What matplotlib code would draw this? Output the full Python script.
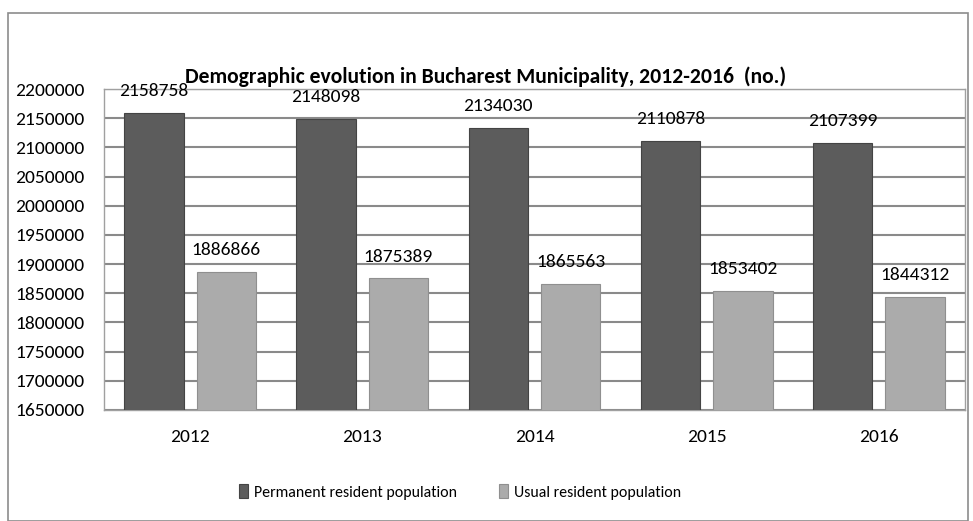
import matplotlib
matplotlib.use("Agg")
import matplotlib.pyplot as plt
import numpy as np
from matplotlib.patches import Rectangle

years = ["2012", "2013", "2014", "2015", "2016"]
permanent = [2158758, 2148098, 2134030, 2110878, 2107399]
usual = [1886866, 1875389, 1865563, 1853402, 1844312]
yticks = list(range(1650000, 2200001, 50000))

FONT = ['Carlito', 'DejaVu Sans']
plt.rcParams['font.family'] = FONT
FS = 14

fig = plt.figure(figsize=(9.73, 5.21), dpi=100)
fig.patch.set_facecolor('white')
fig.add_artist(Rectangle((8/973, 0/521), (968-8)/973, (521-13)/521, transform=fig.transFigure,
                         fill=False, edgecolor='#8c8c8c', linewidth=1.2))

ax = fig.add_axes([104/973, (521-410)/521, (965-104)/973, (410-89)/521])
x = np.arange(len(years))
w = 0.345
off = 0.21
ax.set_axisbelow(True)
b1 = ax.bar(x - off, permanent, w, color='#5c5c5c', edgecolor='#444444', linewidth=0.8,
            label='Permanent resident population', zorder=3)
b2 = ax.bar(x + off, usual, w, color='#ababab', edgecolor='#8f8f8f', linewidth=0.8,
            label='Usual resident population', zorder=3)
ax.set_ylim(1650000, 2200000)
ax.set_xlim(-0.5, len(years) - 0.5)
ax.set_yticks(yticks)
ax.set_yticklabels([str(v) for v in yticks], fontsize=FS)
ax.set_xticks(x)
ax.set_xticklabels(years, fontsize=FS)
ax.tick_params(axis='both', length=0)
ax.tick_params(axis='y', pad=14)
ax.tick_params(axis='x', pad=14)
ax.yaxis.grid(True, color='#8a8a8a', linewidth=1.5)
for s in ax.spines.values():
    s.set_color('#a0a0a0')
    s.set_linewidth(1.0)

for bars, vals in ((b1, permanent), (b2, usual)):
    for r, v in zip(bars, vals):
        ax.annotate(str(v), (r.get_x() + r.get_width() / 2, v), xytext=(0, 10),
                    textcoords='offset points', ha='center', va='bottom', fontsize=FS, zorder=5)

fig.text(486/973, (521-77)/521, 'Demographic evolution in Bucharest Municipality, 2012-2016  (no.)',
         ha='center', va='center', fontsize=15.6, fontweight='bold')

leg = fig.legend(handles=[b1, b2], loc='center', bbox_to_anchor=(460/973, (521-492)/521),
                 ncol=2, frameon=False, fontsize=11.4, handlelength=0.6, handleheight=0.9,
                 handletextpad=0.4, columnspacing=2.6)

fig.savefig('out.png', dpi=100)
